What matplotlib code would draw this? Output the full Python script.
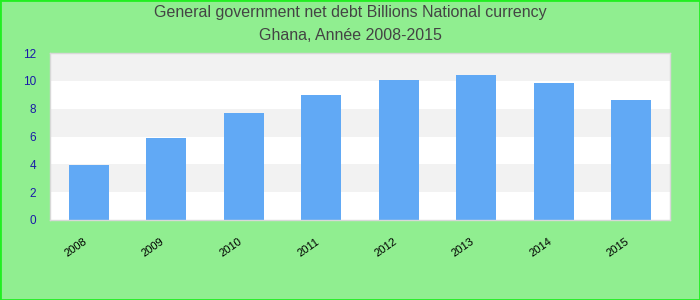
import matplotlib
matplotlib.use("Agg")
import matplotlib.pyplot as plt
from matplotlib.patches import Rectangle
from matplotlib.transforms import ScaledTranslation

years = ["2008", "2009", "2010", "2011", "2012", "2013", "2014", "2015"]
values = [3.95, 5.89, 7.69, 8.98, 10.06, 10.42, 9.84, 8.62]
yticks = [0, 2, 4, 6, 8, 10, 12]

plt.rcParams['font.family'] = ['Liberation Sans', 'DejaVu Sans']

fig = plt.figure(figsize=(7, 3), dpi=100, facecolor="#90ee90")
ax = fig.add_axes([50/700, 80/300, 620/700, 167/300])
ax.set_facecolor("white")

for lo in (2, 6, 10):
    ax.axhspan(lo, lo + 2, color="#f2f2f2", zorder=0, lw=0)

x = list(range(len(years)))
ax.bar(x, values, width=0.52, color="#61a9f5", zorder=2)
ax.set_xlim(-0.5, len(years) - 0.5)
ax.set_ylim(0, 12)
ax.set_yticks(yticks)
ax.set_yticklabels([str(t) for t in yticks], color="#1a1aa8", fontsize=8.5)
ax.set_xticks(x)
ax.set_xticklabels(years, rotation=35, ha="right", rotation_mode="anchor", fontsize=8)
ax.tick_params(axis="both", length=0)
ax.tick_params(axis="y", pad=10)
ax.tick_params(axis="x", pad=12)
offset = ScaledTranslation(-6/100, 0, fig.dpi_scale_trans)
for lbl in ax.get_xticklabels():
    lbl.set_transform(lbl.get_transform() + offset)
for s in ax.spines.values():
    s.set_color("#d8d8d8")
    s.set_linewidth(1)

fig.text(0.5, 1 - 13/300, "General government net debt Billions National currency",
         ha="center", va="center", fontsize=11.5, color="#444444")
fig.text(0.5, 1 - 36/300, "Ghana, Année 2008-2015",
         ha="center", va="center", fontsize=11.5, color="#444444")

fig.patches.append(Rectangle((0, 0), 1, 1, transform=fig.transFigure, fill=False,
                             edgecolor="#22ee22", linewidth=2))

fig.savefig("out.png", dpi=100, facecolor=fig.get_facecolor())
